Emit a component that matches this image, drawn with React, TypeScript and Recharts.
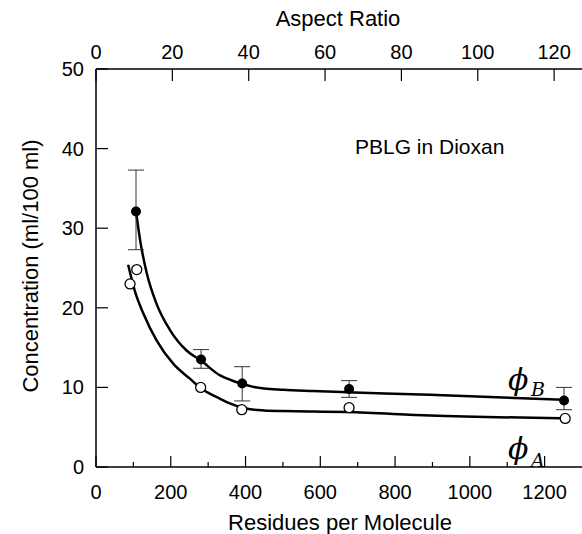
import React from "react";
import {
  ComposedChart, Line, Scatter, ErrorBar, XAxis, YAxis, Customized
} from "recharts";

// measured points (residues per molecule vs concentration)
const residuesB = [107, 281, 391, 677, 1252];
const phiB = [32.1, 13.5, 10.5, 9.8, 8.35];
const errB: [number, number][] = [[4.8, 5.2], [1.1, 1.25], [2.2, 2.1], [1.05, 1.05], [1.15, 1.65]];

const residuesA = [91, 109, 280, 390, 677, 1255];
const phiA = [23.0, 24.8, 10.0, 7.2, 7.45, 6.1];

// fitted curves
const curveBx = [107, 118, 136, 162, 198, 243, 280, 332, 362, 391, 418, 450, 500, 580, 671, 893, 1250];
const curveBy = [32.1, 28.5, 24.3, 20.5, 17.2, 14.6, 13.4, 11.5, 10.9, 10.45, 10.1, 9.85, 9.7, 9.55, 9.4, 9.07, 8.44];
const curveAx = [86, 104, 127, 162, 207, 251, 278, 332, 360, 387, 412, 450, 500, 580, 671, 893, 1245];
const curveAy = [25.4, 22.1, 19.25, 15.9, 12.95, 11.1, 10.0, 8.57, 7.95, 7.5, 7.25, 7.1, 7.03, 6.97, 6.9, 6.47, 6.13];

const bottomTicks = [0, 100, 200, 300, 400, 500, 600, 700, 800, 900, 1000, 1100, 1200];
const topTicks = [0, 20, 40, 60, 80, 100, 120];
const leftTicks = [0, 10, 20, 30, 40, 50];

const pointsB = residuesB.map((x, i) => ({ x, y: phiB[i], err: errB[i] }));
const pointsA = residuesA.map((x, i) => ({ x, y: phiA[i] }));
const lineB = curveBx.map((x, i) => ({ x, y: curveBy[i] }));
const lineA = curveAx.map((x, i) => ({ x, y: curveAy[i] }));
const topAnchor = topTicks.map((x) => ({ x, y: null }));

const FONT = "'Liberation Sans', Arial, Helvetica, sans-serif";
const SERIF = "'DejaVu Serif', 'Liberation Serif', serif";

const BottomTick = (props: any) => {
  const { x, y, payload } = props;
  const major = payload.value % 200 === 0;
  return (
    <g>
      <line x1={x} x2={x} y1={y} y2={y - (major ? 11 : 5)} stroke="#000" strokeWidth={1.2} />
      {major && (
        <text x={x} y={y + 32} textAnchor="middle" fontSize={20} fontFamily={FONT} fill="#000">
          {payload.value}
        </text>
      )}
    </g>
  );
};

const TopTick = (props: any) => {
  const { x, y, payload } = props;
  return (
    <g>
      <line x1={x} x2={x} y1={y} y2={y + 12} stroke="#000" strokeWidth={1.2} />
      <text x={x} y={y - 10} textAnchor="middle" fontSize={20} fontFamily={FONT} fill="#000">
        {payload.value}
      </text>
    </g>
  );
};

const LeftTick = (props: any) => {
  const { x, y, payload } = props;
  return (
    <g>
      <line x1={x} x2={x + 12} y1={y} y2={y} stroke="#000" strokeWidth={1.2} />
      <text x={x - 12} y={y + 7} textAnchor="end" fontSize={20} fontFamily={FONT} fill="#000">
        {payload.value}
      </text>
    </g>
  );
};

const FilledDot = (props: any) => <circle cx={props.cx} cy={props.cy} r={5} fill="#000" />;
const OpenDot = (props: any) => (
  <circle cx={props.cx} cy={props.cy} r={5} fill="#fff" stroke="#000" strokeWidth={1.3} />
);

const Labels = () => (
  <g fill="#000">
    <text x={338} y={26} textAnchor="middle" fontSize={22} fontFamily={FONT}>Aspect Ratio</text>
    <text x={340} y={530} textAnchor="middle" fontSize={22} fontFamily={FONT}>Residues per Molecule</text>
    <text
      x={0} y={0} transform="translate(38,266) rotate(-90)" textAnchor="middle"
      fontSize={22} fontFamily={FONT}
    >
      Concentration (ml/100 ml)
    </text>
    <text x={355} y={154} fontSize={21} fontFamily={FONT}>PBLG in Dioxan</text>
    <text x={508} y={390} fontSize={30} fontFamily={SERIF} fontStyle="italic">ϕ</text>
    <text x={531} y={396} fontSize={19} fontFamily={SERIF} fontStyle="italic">B</text>
    <text x={508} y={459} fontSize={30} fontFamily={SERIF} fontStyle="italic">ϕ</text>
    <text x={531} y={467} fontSize={19} fontFamily={SERIF} fontStyle="italic">A</text>
  </g>
);

export default function App() {
  return (
    <div style={{ position: "absolute", left: 0, top: 0, width: 582, height: 534, background: "#fff" }}>
      <ComposedChart width={582} height={534} margin={{ top: 0, right: 0, bottom: 0, left: 0 }}>
        <XAxis
          dataKey="x" type="number" domain={[0, 1300]} ticks={bottomTicks} interval={0}
          height={67} tickSize={0} tickMargin={0} tickLine={false}
          axisLine={{ stroke: "#000", strokeWidth: 1.5 }} tick={<BottomTick />} allowDataOverflow
        />
        <XAxis
          xAxisId="top" dataKey="x" orientation="top" type="number" domain={[0, 127.3]} ticks={topTicks}
          interval={0} height={69} tickSize={0} tickMargin={0} tickLine={false}
          axisLine={{ stroke: "#000", strokeWidth: 1.5 }} tick={<TopTick />} allowDataOverflow
        />
        <YAxis
          type="number" domain={[0, 50]} ticks={leftTicks} interval={0} width={96}
          tickSize={0} tickMargin={0} tickLine={false}
          axisLine={{ stroke: "#000", strokeWidth: 1.5 }} tick={<LeftTick />} allowDataOverflow
        />
        <Line
          xAxisId="top" data={topAnchor} dataKey="y" stroke="none" dot={false}
          activeDot={false} isAnimationActive={false}
        />
        <Line data={lineB} dataKey="y" type="monotone" stroke="#000" strokeWidth={2.5} dot={false} isAnimationActive={false} />
        <Line data={lineA} dataKey="y" type="monotone" stroke="#000" strokeWidth={2.5} dot={false} isAnimationActive={false} />
        <Scatter data={pointsB} dataKey="y" shape={<FilledDot />} isAnimationActive={false}>
          <ErrorBar dataKey="err" direction="y" width={8} stroke="#333" strokeWidth={1} />
        </Scatter>
        <Scatter data={pointsA} dataKey="y" shape={<OpenDot />} isAnimationActive={false} />
        <Customized component={Labels} />
      </ComposedChart>
    </div>
  );
}
